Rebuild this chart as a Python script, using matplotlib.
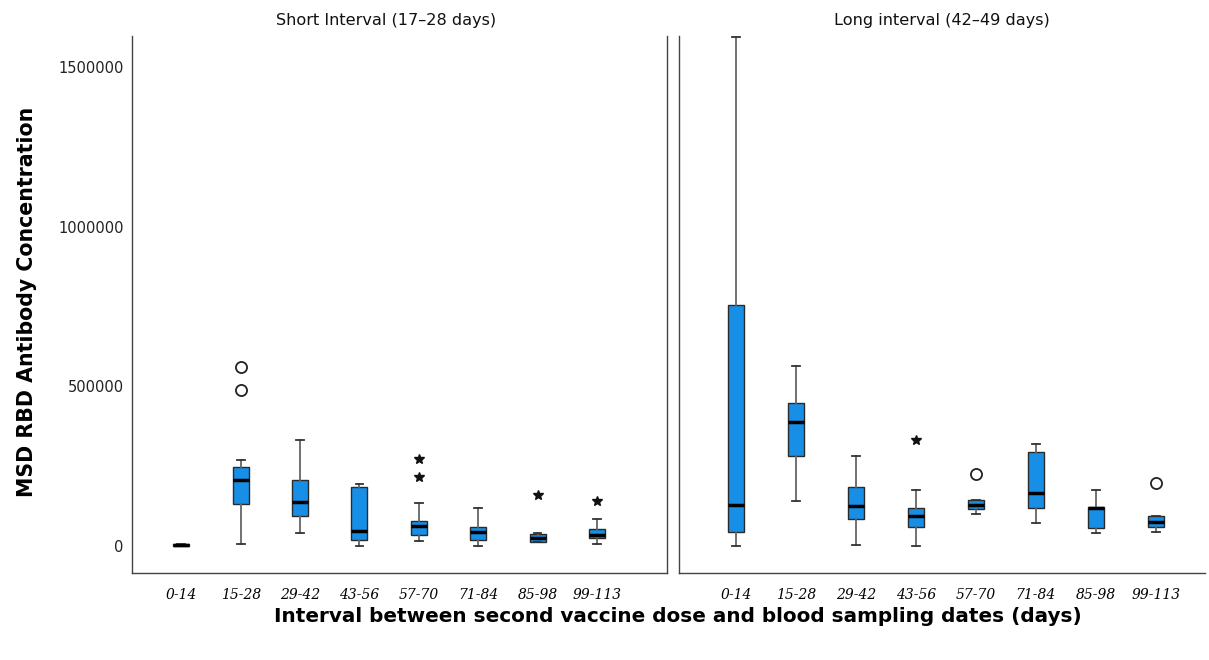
import numpy as np
import matplotlib
matplotlib.use('Agg')
import matplotlib.pyplot as plt

# category labels (days after second dose)
cats = ['0-14', '15-28', '29-42', '43-56', '57-70', '71-84', '85-98', '99-113']

# Short interval (17-28 days) - box stats
short_whislo = [0, 6000, 42000, 2000, 17000, 1000, 13000, 8000]
short_q1 = [0, 133000, 95000, 19000, 36000, 19000, 14000, 26000]
short_med = [3000, 208000, 138000, 47000, 62000, 43000, 26000, 34000]
short_q3 = [6000, 248000, 206000, 185000, 78000, 60000, 37000, 53000]
short_whishi = [6000, 271000, 331000, 196000, 135000, 121000, 42000, 86000]
short_circles = {1: [490000, 560000]}
short_stars = {4: [217000, 274000], 6: [159000], 7: [141000]}

# Long interval (42-49 days)
long_whislo = [2000, 142000, 3000, 1000, 101000, 71000, 40000, 45000]
long_q1 = [45000, 282000, 84000, 60000, 115000, 118000, 57000, 60000]
long_med = [130000, 388000, 126000, 94000, 130000, 167000, 120000, 76000]
long_q3 = [756000, 448000, 185000, 120000, 146000, 295000, 123000, 94000]
long_whishi = [1595000, 563000, 283000, 175000, 146000, 319000, 175000, 94000]
long_circles = {4: [225000], 7: [199000]}
long_stars = {3: [331000]}

BOX_COLOR = '#178fe6'


def make_stats(whislo, q1, med, q3, whishi):
    stats = []
    for i in range(len(whislo)):
        stats.append({'whislo': whislo[i], 'q1': q1[i], 'med': med[i],
                      'q3': q3[i], 'whishi': whishi[i], 'fliers': []})
    return stats


def draw_panel(ax, stats, circles, stars, title, title_x):
    pos = np.arange(len(stats))
    ax.bxp(stats, positions=pos, widths=0.27, patch_artist=True,
           showfliers=False,
           boxprops=dict(facecolor=BOX_COLOR, edgecolor='#2a2a2a', linewidth=1.0),
           medianprops=dict(color='black', linewidth=2.5),
           whiskerprops=dict(color='#666666', linewidth=1.3),
           capprops=dict(color='#333333', linewidth=1.3),
           capwidths=0.13, manage_ticks=False)
    for k, vals in circles.items():
        ax.plot([pos[k]] * len(vals), vals, linestyle='none', marker='o',
                markersize=8, markerfacecolor='white', markeredgecolor='#222222',
                markeredgewidth=1.3)
    for k, vals in stars.items():
        ax.plot([pos[k]] * len(vals), vals, linestyle='none', marker='*',
                markersize=7, color='#111111')
    ax.set_xticks(pos)
    ax.set_xticklabels(cats, fontstyle='italic', family='DejaVu Serif', fontsize=10)
    ax.tick_params(axis='both', length=0)
    ax.tick_params(axis='x', pad=11)
    ax.set_title(title, fontsize=11.6, pad=8, color='#111111', x=title_x)
    ax.spines['top'].set_visible(False)
    for s in ax.spines.values():
        s.set_color('#444444')
        s.set_linewidth(1.0)


fig = plt.figure(figsize=(12.09, 6.6), dpi=100)
ax1 = fig.add_axes([132 / 1209, 1 - 573 / 660, (667 - 132) / 1209, (573 - 36) / 660])
ax2 = fig.add_axes([679 / 1209, 1 - 573 / 660, (1205 - 679) / 1209, (573 - 36) / 660],
                   sharey=ax1)

draw_panel(ax1, make_stats(short_whislo, short_q1, short_med, short_q3, short_whishi),
           short_circles, short_stars, 'Short Interval (17\u201328 days)', 0.475)
draw_panel(ax2, make_stats(long_whislo, long_q1, long_med, long_q3, long_whishi),
           long_circles, long_stars, 'Long interval (42\u201349 days)', 0.5)

ax1.set_xlim(-0.83, 8.18)
ax2.set_xlim(-0.95, 7.82)
ax2.spines['right'].set_visible(False)
ax2.tick_params(axis='y', labelleft=False)

ax1.set_ylim(-84000, 1597000)
ax1.set_yticks([0, 500000, 1000000, 1500000])
ax1.set_yticklabels(['0', '500000', '1000000', '1500000'], fontsize=10.5, color='#222222')
ax1.tick_params(axis='y', pad=6)

fig.text(27 / 1209, 1 - 302 / 660, 'MSD RBD Antibody Concentration', rotation=90,
         ha='center', va='center', fontsize=14.8, fontweight='bold')
fig.text(678 / 1209, 1 - 617 / 660,
         'Interval between second vaccine dose and blood sampling dates (days)',
         ha='center', va='center', fontsize=14.4, fontweight='bold')

fig.savefig('out.png', dpi=100)
